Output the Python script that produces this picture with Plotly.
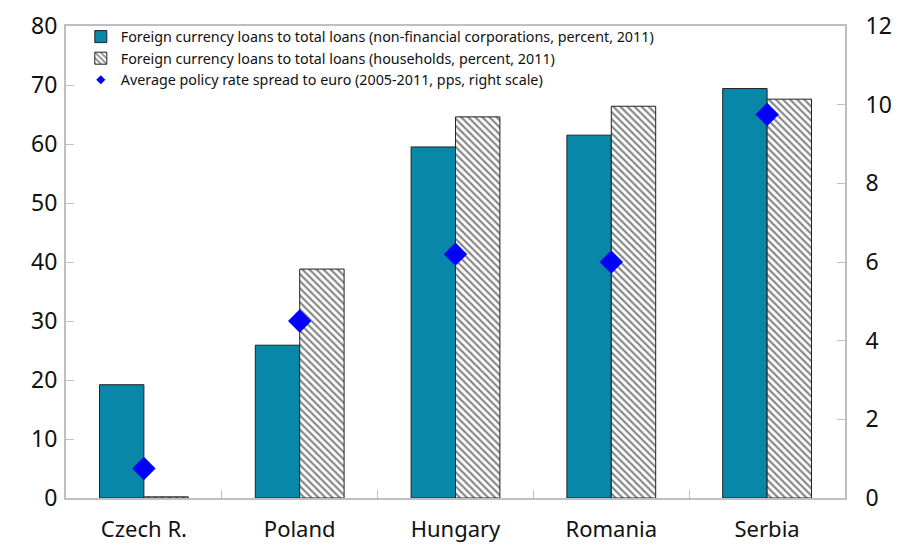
import plotly.graph_objects as go

countries = ["Czech R.", "Poland", "Hungary", "Romania", "Serbia"]
corp_fx_share = [19.2, 25.9, 59.5, 61.5, 69.4]
household_fx_share = [0.2, 38.8, 64.6, 66.4, 67.6]
policy_spread = [0.75, 4.5, 6.2, 6.0, 9.75]

left_ticks = [0, 10, 20, 30, 40, 50, 60, 70, 80]
right_ticks = [0, 2, 4, 6, 8, 10, 12]

TEAL = "#0887A9"
EDGE = "#222222"
AXIS = "#BFBFBF"
FONT = "Noto Sans"

fig = go.Figure()

fig.add_trace(go.Bar(
    x=countries, y=corp_fx_share,
    name="Foreign currency loans to total loans (non-financial corporations, percent, 2011)",
    marker=dict(color=TEAL, line=dict(color=EDGE, width=1)),
))
fig.add_trace(go.Bar(
    x=countries, y=household_fx_share,
    name="Foreign currency loans to total loans (households, percent, 2011)",
    marker=dict(color="white", line=dict(color=EDGE, width=1),
                pattern=dict(shape="\\", fgcolor="#111111", bgcolor="white",
                             size=5, solidity=0.45)),
))
# spread markers on the right-hand scale
fig.add_trace(go.Scatter(
    x=countries, y=policy_spread, yaxis="y2", mode="markers",
    marker=dict(symbol="diamond", size=18, color="#0000FF"),
    showlegend=False,
))
# small legend swatch for the spread series
fig.add_trace(go.Scatter(
    x=[None], y=[None], yaxis="y2", mode="markers",
    marker=dict(symbol="diamond", size=7, color="#0000FF"),
    name="Average policy rate spread to euro (2005-2011, pps, right scale)",
))

fig.update_layout(
    width=899, height=548,
    margin=dict(l=66, r=54, t=26, b=50),
    paper_bgcolor="white", plot_bgcolor="white",
    barmode="group", bargap=0.43, bargroupgap=0,
    font=dict(family=FONT, color="#111111"),
    showlegend=True,
    legend=dict(x=0.019, y=1.011, xanchor="left", yanchor="top",
                bgcolor="rgba(0,0,0,0)", font=dict(size=14.3, family=FONT),
                tracegroupgap=0, itemwidth=30),
    xaxis=dict(
        type="category", showline=True, linecolor=AXIS, linewidth=2,
        mirror=True, ticks="inside", tickson="boundaries", ticklen=8,
        tickcolor=AXIS, tickfont=dict(size=22, family=FONT), showgrid=False,
        ticklabelstandoff=11, automargin=False,
    ),
    yaxis=dict(
        range=[0, 80], tickvals=left_ticks, showline=True, linecolor=AXIS,
        linewidth=2, ticks="inside", ticklen=8, tickcolor=AXIS,
        tickfont=dict(size=23, family=FONT), showgrid=False, zeroline=False,
        ticklabelstandoff=2, automargin=False,
    ),
    yaxis2=dict(
        range=[0, 12], tickvals=right_ticks, overlaying="y", side="right",
        showline=True, linecolor=AXIS, linewidth=2, ticks="inside", ticklen=8,
        tickcolor=AXIS, tickfont=dict(size=23, family=FONT), showgrid=False,
        zeroline=False, ticklabelstandoff=14, automargin=False,
    ),
)

fig.write_html("out.html")
